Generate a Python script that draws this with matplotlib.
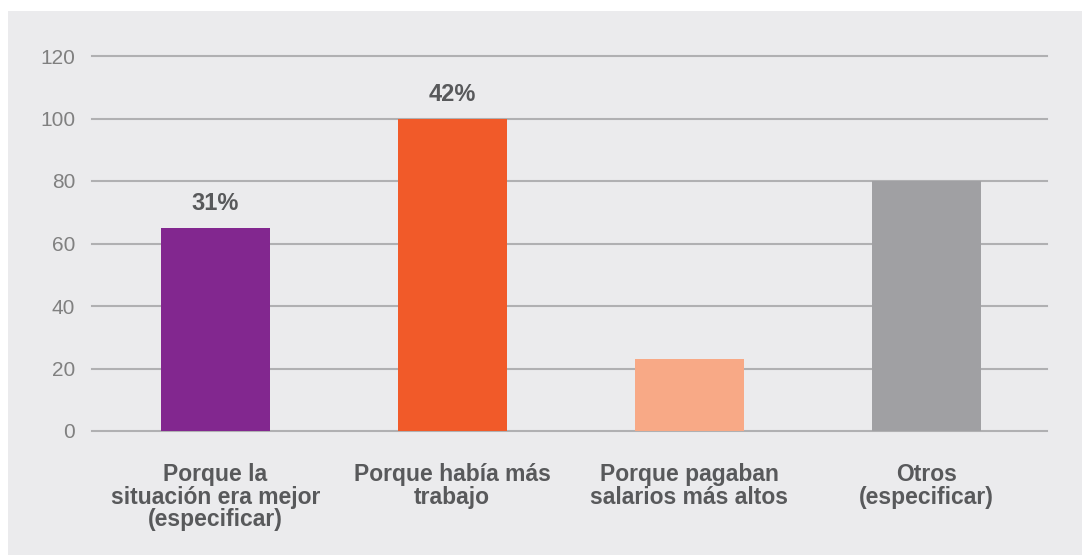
import matplotlib.pyplot as plt
from matplotlib.patches import Rectangle

categories = ["Porque la\nsituación era mejor\n(especificar)",
              "Porque había más\ntrabajo",
              "Porque pagaban\nsalarios más altos",
              "Otros\n(especificar)"]
values = [65, 100, 23, 80]
value_labels = ["31%", "42%", "", ""]
colors = ["#82278F", "#F15A29", "#F8A986", "#A0A0A3"]
yticks = [0, 20, 40, 60, 80, 100, 120]

plt.rcParams['font.family'] = ['Liberation Sans', 'DejaVu Sans']

fig = plt.figure(figsize=(10.82, 5.55), dpi=100)
fig.patch.set_facecolor("white")
# gray panel behind the chart
fig.patches.append(Rectangle((8 / 1082, 0), 1, (555 - 11) / 555,
                             transform=fig.transFigure, facecolor="#EBEBED",
                             edgecolor="none", zorder=-10))

ax = fig.add_axes([92 / 1082, (555 - 431) / 555, 955 / 1082, 375 / 555])
ax.set_facecolor("none")

x = range(len(categories))
bars = ax.bar(x, values, width=0.46, color=colors, zorder=3)

for b, lab in zip(bars, value_labels):
    if lab:
        ax.annotate(lab, (b.get_x() + b.get_width() / 2, b.get_height()),
                    xytext=(0, 17.5), textcoords="offset points",
                    ha="center", va="center", fontsize=17,
                    fontweight="bold", color="#58595B")

ax.set_ylim(0, 120)
ax.set_xlim(-0.52, 3.51)
ax.set_yticks(yticks)
for t in yticks:
    ax.axhline(t, color="#B0B0B2", linewidth=1.5, zorder=1, clip_on=False)

ax.set_xticks(list(x))
ax.set_xticklabels(categories, fontsize=16.5, fontweight="bold",
                   color="#58595B", linespacing=0.98)
ax.tick_params(axis="x", length=0, pad=23)
ax.tick_params(axis="y", length=0, pad=12, labelsize=15, labelcolor="#808080")

for s in ax.spines.values():
    s.set_visible(False)

fig.savefig("out.png", dpi=100)
